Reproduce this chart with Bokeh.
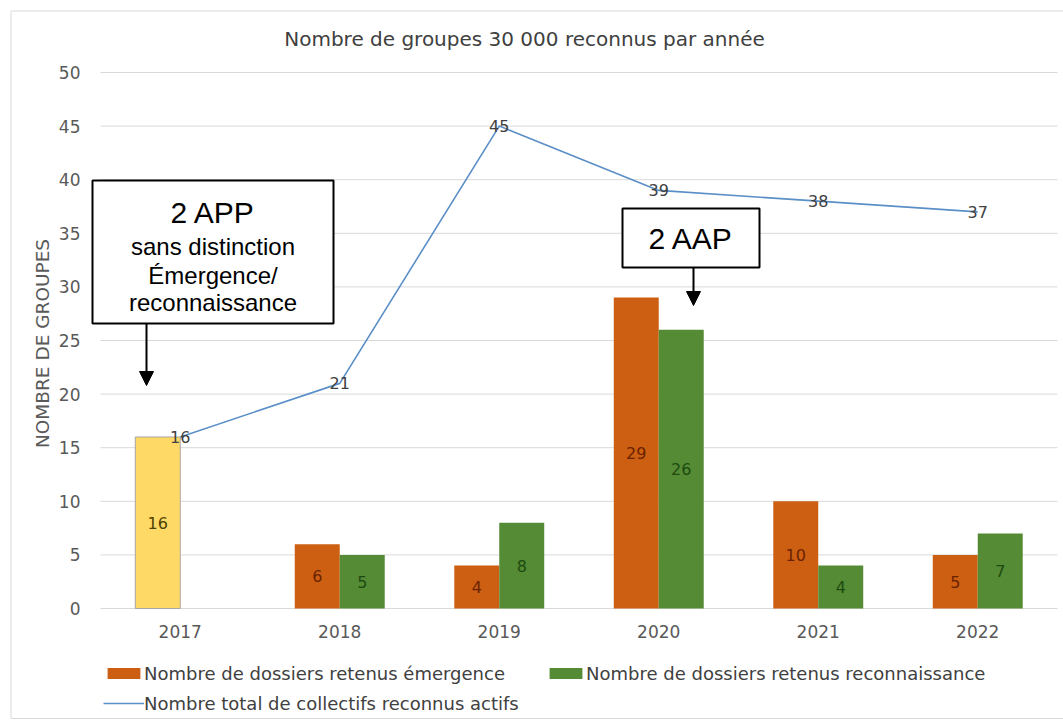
import math
from bokeh.plotting import figure
from bokeh.models import (ColumnDataSource, Range1d, FixedTicker,
                          Label, BoxAnnotation, Arrow, NormalHead, Legend, LegendItem)
from bokeh.core.properties import value
from bokeh.embed import file_html
from bokeh.resources import INLINE

# ---- data ----
years = ["2017", "2018", "2019", "2020", "2021", "2022"]
undistinguished = [16, None, None, None, None, None]      # 2017: sans distinction
emergence = [None, 6, 4, 29, 10, 5]
reconnaissance = [None, 5, 8, 26, 4, 7]
total_active = [16, 21, 45, 39, 38, 37]
y_ticks = [0, 5, 10, 15, 20, 25, 30, 35, 40, 45, 50]

title_text = "Nombre de groupes 30 000 reconnus par année"
y_label = "NOMBRE DE GROUPES"
label_emergence = "Nombre de dossiers retenus émergence"
label_reco = "Nombre de dossiers retenus reconnaissance"
label_total = "Nombre total de collectifs reconnus actifs"

# ---- styling / layout ----
CHART_FONT = "DejaVu Sans"
BOX_FONT = "Liberation Sans"
ORANGE = "#CC5F12"
GREEN = "#558B35"
YELLOW = "#FFD966"
BLUE = "#5B8FC7"
GREY_TXT = "#595959"
GRID = "#D9D9D9"

W, H = 1063, 723
PX_X, PX_Y = 159.5, 10.72      # pixels per category / per unit
LEFT_PX, ZERO_PY = 100, 608     # pixel position of the category axis start and of y = 0


def dx(px):
    return (px - LEFT_PX) / PX_X


def dy(py):
    return (ZERO_PY - py) / PX_Y


BW, OFF = 0.282, 0.141

cat_x = [i + 0.5 for i in range(len(years))]


def keep(xs, vals, shift):
    pts = [(x + shift, v) for x, v in zip(xs, vals) if v is not None]
    return dict(x=[a for a, _ in pts], v=[b for _, b in pts], mid=[b / 2 for _, b in pts],
                t=[str(b) for _, b in pts])


src_u = ColumnDataSource(keep(cat_x, undistinguished, -OFF))
src_e = ColumnDataSource(keep(cat_x, emergence, -OFF))
src_r = ColumnDataSource(keep(cat_x, reconnaissance, OFF))
src_t = ColumnDataSource(keep(cat_x, total_active, 0))

p = figure(width=W, height=H, x_range=Range1d(dx(0), dx(W)), y_range=Range1d(dy(H), dy(0)),
           output_backend="svg", toolbar_location=None,
           min_border_left=0, min_border_right=0, min_border_top=0, min_border_bottom=0)
p.title.visible = False
p.outline_line_color = None
p.background_fill_color = "white"
p.border_fill_color = "white"
p.xgrid.visible = False
p.ygrid.visible = False

# outer chart border
p.add_layout(BoxAnnotation(left=dx(10.5), right=dx(1075), top=dy(10.5), bottom=dy(718),
                           fill_alpha=0, line_color=GRID, line_alpha=1, line_width=1,
                           level="underlay"))

# horizontal grid lines over the category span
p.segment(x0=[0] * len(y_ticks), x1=[len(years)] * len(y_ticks), y0=y_ticks, y1=y_ticks,
          line_color=GRID, line_width=1)

r_u = p.vbar(x="x", top="v", width=BW, source=src_u,
             fill_color=YELLOW, line_color="#A6A6A6", line_width=1)
r_e = p.vbar(x="x", top="v", width=BW, source=src_e, fill_color=ORANGE, line_color=None)
r_r = p.vbar(x="x", top="v", width=BW, source=src_r, fill_color=GREEN, line_color=None)
r_t = p.line(x="x", y="v", source=src_t, line_color=BLUE, line_width=1.6)

# value labels
for src, col in [(src_u, "#4D4200"), (src_e, "#6B2200"), (src_r, "#1E4A10")]:
    p.text(x="x", y="mid", text="t", source=src, text_font=value(CHART_FONT),
           text_font_size="16px", text_color=col, text_align="center", text_baseline="middle")
p.text(x="x", y="v", text="t", source=src_t, text_font=value(CHART_FONT),
       text_font_size="16px", text_color="#404040", text_align="center", text_baseline="middle")

# axes (pinned to the data origin)
p.yaxis.fixed_location = 0
p.yaxis.ticker = FixedTicker(ticks=y_ticks)
p.yaxis.axis_line_color = None
p.yaxis.major_tick_line_color = None
p.yaxis.minor_tick_line_color = None
p.yaxis.major_label_standoff = 14
p.yaxis.major_label_text_font = CHART_FONT
p.yaxis.major_label_text_font_size = "17px"
p.yaxis.major_label_text_color = GREY_TXT

p.xaxis.fixed_location = 0
p.xaxis.ticker = FixedTicker(ticks=cat_x)
p.xaxis.major_label_overrides = {x: y for x, y in zip(cat_x, years)}
p.xaxis.axis_line_color = None
p.xaxis.major_tick_line_color = None
p.xaxis.minor_tick_line_color = None
p.xaxis.major_label_standoff = 10
p.xaxis.major_label_text_font = CHART_FONT
p.xaxis.major_label_text_font_size = "17px"
p.xaxis.major_label_text_color = GREY_TXT

# title and y label
p.add_layout(Label(x=dx(524), y=dy(38.5), text=title_text, text_font=CHART_FONT,
                   text_font_size="20px", text_color="#404040",
                   text_align="center", text_baseline="middle"))
p.add_layout(Label(x=dx(42), y=dy(343), text=y_label, angle=math.pi / 2,
                   text_font=CHART_FONT, text_font_size="18.5px", text_color=GREY_TXT,
                   text_align="center", text_baseline="middle"))

# legend
leg = Legend(items=[LegendItem(label=label_emergence, renderers=[r_e]),
                    LegendItem(label=label_reco, renderers=[r_r]),
                    LegendItem(label=label_total, renderers=[r_t])],
             orientation="horizontal", ncols=2, location=(103, 9.5), spacing=9)
leg.padding = 0
leg.margin = 0
leg.border_line_color = None
leg.background_fill_alpha = 0
leg.glyph_width = 41
leg.glyph_height = 14
leg.label_standoff = 0
leg.label_width = 392
leg.label_text_font = CHART_FONT
leg.label_text_font_size = "18px"
leg.label_text_color = "#404040"
p.add_layout(leg)

# annotation boxes
p.add_layout(BoxAnnotation(left=dx(92), right=dx(333), top=dy(180), bottom=dy(323),
                           fill_color="white", fill_alpha=1, line_color="black",
                           line_alpha=1, line_width=2, level="annotation"))
for txt, py, fs in [("2 APP", 212, "30px"), ("sans distinction", 246, "24px"),
                    ("Émergence/", 275, "24px"), ("reconnaissance", 302, "24px")]:
    p.add_layout(Label(x=dx(212.5), y=dy(py), text=txt, text_font=BOX_FONT, text_font_size=fs,
                       text_color="black", text_align="center", text_baseline="middle"))
p.add_layout(Arrow(end=NormalHead(size=14, fill_color="black", line_color="black"),
                   x_start=dx(146), y_start=dy(323), x_end=dx(146), y_end=dy(385),
                   line_color="black", line_width=2))

p.add_layout(BoxAnnotation(left=dx(622), right=dx(759), top=dy(208), bottom=dy(267),
                           fill_color="white", fill_alpha=1, line_color="black",
                           line_alpha=1, line_width=2, level="annotation"))
p.add_layout(Label(x=dx(690.5), y=dy(238), text="2 AAP", text_font=BOX_FONT,
                   text_font_size="30px", text_color="black",
                   text_align="center", text_baseline="middle"))
p.add_layout(Arrow(end=NormalHead(size=14, fill_color="black", line_color="black"),
                   x_start=dx(693), y_start=dy(267), x_end=dx(693), y_end=dy(305),
                   line_color="black", line_width=2))

open("out.html", "w").write(file_html(p, INLINE))
